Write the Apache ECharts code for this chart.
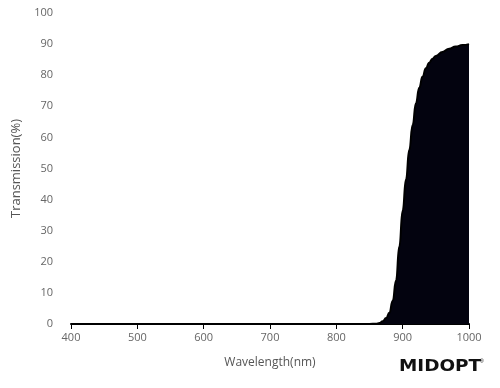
<!DOCTYPE html>
<html><head><meta charset="utf-8">
<script src="https://cdn.jsdelivr.net/npm/echarts@6/dist/echarts.min.js"></script>
<style>html,body{margin:0;padding:0;background:#fff}#c{width:500px;height:388px}</style>
</head><body><div id="c"></div>
<script>
const wavelengths = [400, 850, 860, 865, 870, 875, 880, 885, 890, 895, 900, 905, 910, 915, 920, 925, 930, 935, 940, 945, 950, 960, 970, 980, 990, 1000];
const transmission = [0, 0, 0.1, 0.3, 0.9, 1.9, 3.6, 7.5, 14, 25, 36.5, 46.5, 56, 64, 71, 76, 79.6, 82.2, 84, 85.3, 86.2, 87.5, 88.5, 89.2, 89.7, 90];
const xTicks = [400, 500, 600, 700, 800, 900, 1000];
const yTicks = [0, 10, 20, 30, 40, 50, 60, 70, 80, 90, 100];

const chart = echarts.init(document.getElementById('c'));
const fontFam = '"Open Sans", sans-serif';
chart.setOption({
  animation: false,
  grid: { left: 71, right: 31, top: 13, bottom: 64 },
  xAxis: {
    type: 'value', min: xTicks[0], max: xTicks[xTicks.length - 1], interval: 100,
    name: 'Wavelength(nm)', nameLocation: 'middle', nameGap: 33,
    nameTextStyle: { color: '#555', fontSize: 12, fontFamily: fontFam },
    axisLine: { show: true, lineStyle: { color: '#000', width: 2 } },
    axisTick: { show: true, length: 5, lineStyle: { color: '#000', width: 1 } },
    axisLabel: { color: '#666', fontSize: 11, fontFamily: fontFam, margin: 8, formatter: v => String(v) },
    splitLine: { show: false }
  },
  yAxis: {
    type: 'value', min: yTicks[0], max: yTicks[yTicks.length - 1], interval: 10,
    name: 'Transmission(%)', nameLocation: 'middle', nameGap: 45, nameRotate: 90,
    nameTextStyle: { color: '#555', fontSize: 13, fontFamily: fontFam },
    axisLine: { show: false }, axisTick: { show: false },
    axisLabel: { color: '#666', fontSize: 11, fontFamily: fontFam, margin: 18 },
    splitLine: { show: false }
  },
  series: [{
    type: 'line', smooth: 0.5, smoothMonotone: 'x', symbol: 'none',
    data: wavelengths.map((w, i) => [w, transmission[i]]),
    lineStyle: { color: '#000', width: 2 },
    areaStyle: { color: '#03030f', opacity: 1 }
  }],
  graphic: [{
    type: 'text', left: 399, top: 359, scaleX: 1.15,
    style: { text: 'MIDOPT', font: 'bold 16px "DejaVu Sans", sans-serif', fill: '#111' }
  }, {
    type: 'text', left: 480, top: 359,
    style: { text: '®', font: '5px sans-serif', fill: '#111' }
  }]
});
</script></body></html>
